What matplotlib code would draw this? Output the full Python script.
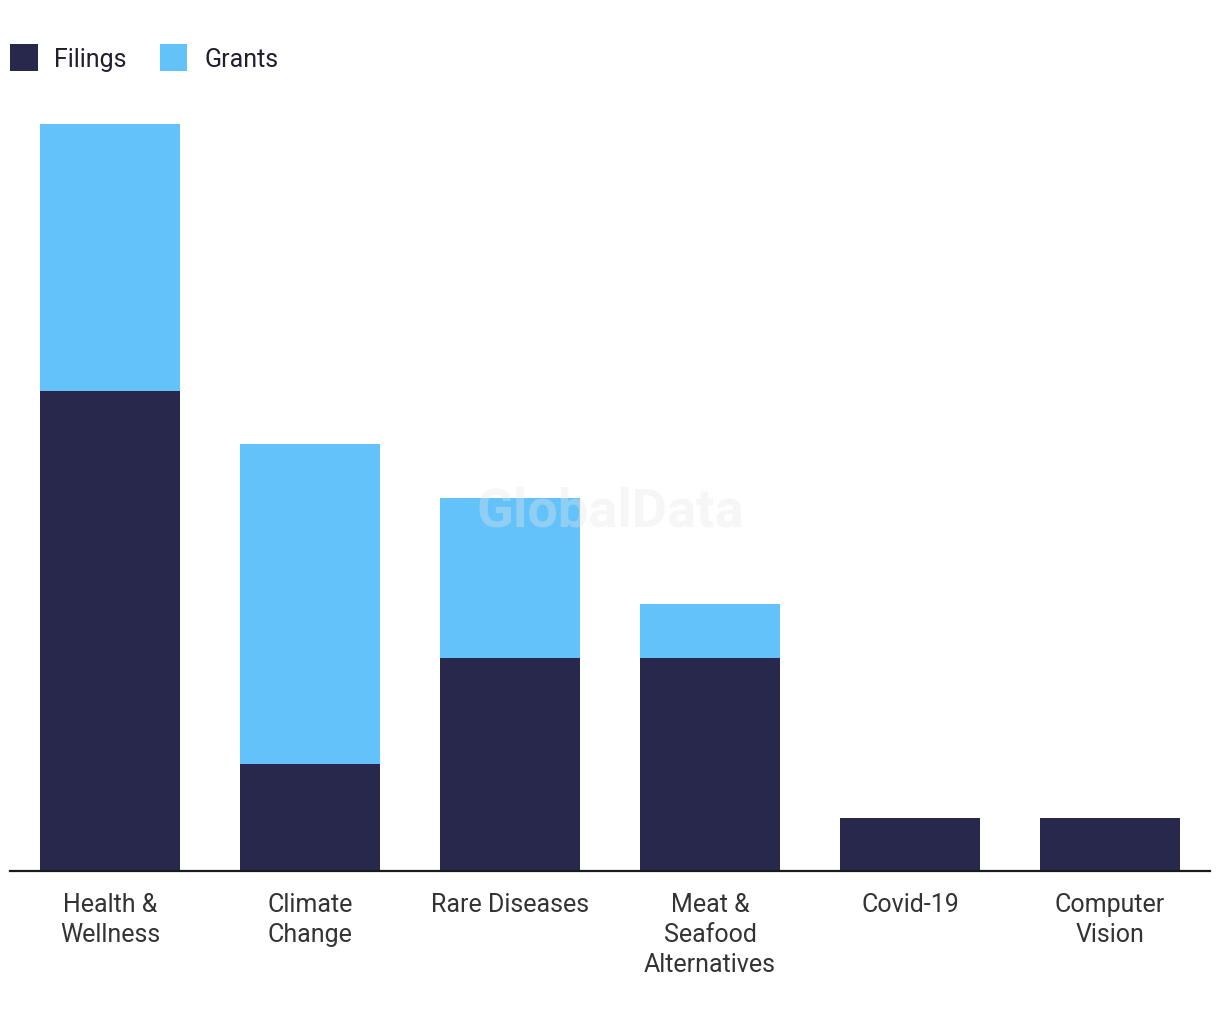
import matplotlib
matplotlib.use("Agg")
import matplotlib.pyplot as plt
from matplotlib.patches import Patch
import numpy as np

categories = ["Health &\nWellness", "Climate\nChange", "Rare Diseases",
              "Meat &\nSeafood\nAlternatives", "Covid-19", "Computer\nVision"]
filings = [9, 2, 4, 4, 1, 1]
grants = [5, 6, 3, 1, 0, 0]

navy = "#27284B"
blue = "#62C2F9"

plt.rcParams['font.family'] = ['Roboto', 'DejaVu Sans']

fig = plt.figure(figsize=(12.2, 10.2), dpi=100)
W, H = 1220, 1020
ax = fig.add_axes([10 / W, (H - 872) / H, 1200 / W, (872 - 125) / H])

x = np.arange(len(categories))
ax.bar(x, filings, width=0.7, color=navy, zorder=2)
ax.bar(x, grants, width=0.7, bottom=filings, color=blue, zorder=2)

ax.set_xlim(-0.5, len(categories) - 0.5)
ax.set_ylim(0, 14)
ax.set_yticks([])
ax.set_xticks(x)
ax.set_xticklabels(categories, fontsize=18, color="#333333", linespacing=1.31)
ax.tick_params(axis='x', length=0, pad=15)
for s in ["top", "right", "left"]:
    ax.spines[s].set_visible(False)
ax.spines["bottom"].set_color("#1a1a1a")
ax.spines["bottom"].set_linewidth(1.6)
ax.spines["bottom"].set_zorder(3)

fig.text(610 / W, 1 - 512 / H, "GlobalData", ha="center", va="center",
         fontsize=39, fontweight="bold", color="#e8e8e8", alpha=0.35, zorder=10)

handles = [Patch(facecolor=navy, label="Filings"), Patch(facecolor=blue, label="Grants")]
fig.legend(handles=handles, loc="upper left", bbox_to_anchor=(10 / W, 1 - 45 / H),
           ncol=2, frameon=False, fontsize=18, handlelength=1.1, handleheight=1.3,
           handletextpad=0.68, columnspacing=1.3, labelcolor="#1f1f2f",
           borderaxespad=0, borderpad=0)

fig.savefig("out.png", dpi=100, facecolor="white")
